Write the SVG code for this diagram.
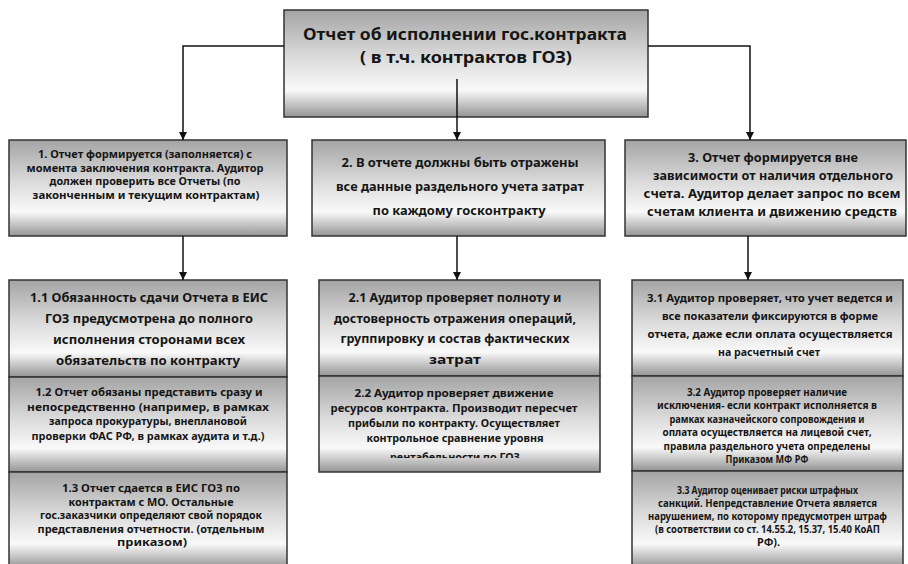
<svg xmlns="http://www.w3.org/2000/svg" width="908" height="564" viewBox="0 0 908 564">
<defs>
<linearGradient id="g" x1="0" y1="0" x2="0" y2="1">
<stop offset="0" stop-color="#a4a4a4"/>
<stop offset="0.45" stop-color="#dcdcdc"/>
<stop offset="0.75" stop-color="#f9f9f9"/>
<stop offset="1" stop-color="#949494"/>
</linearGradient>
<marker id="arr" viewBox="0 0 10 10" refX="10" refY="5" markerWidth="10" markerHeight="8" markerUnits="userSpaceOnUse" orient="auto">
<path d="M0,0 L10,5 L0,10 z" fill="#111"/>
</marker>
<clipPath id="clip22"><rect x="319" y="376" width="281" height="82"/></clipPath>
</defs>
<style>
.box{fill:url(#g);stroke:#333;stroke-width:1.5}
text{font-family:"Noto Sans","DejaVu Sans",sans-serif;font-weight:bold;text-anchor:middle;fill:#151515}
.con{fill:none;stroke:#111;stroke-width:1.5}
</style>
<rect width="908" height="564" fill="#fff"/>

<g id="root">
<rect class="box" x="284" y="10" width="364" height="107"/>
<text x="465" y="40" font-size="16.5" textLength="324" lengthAdjust="spacingAndGlyphs">Отчет об исполнении гос.контракта</text>
<text x="466" y="63" font-size="16.5" textLength="212" lengthAdjust="spacingAndGlyphs">( в т.ч. контрактов ГОЗ)</text>
</g>

<g id="n1">
<rect class="box" x="9" y="140" width="278" height="96"/>
<g font-size="10.5">
<text x="145" y="158" textLength="214" lengthAdjust="spacingAndGlyphs">1. Отчет формируется (заполняется) с</text>
<text x="145" y="171.5" textLength="237" lengthAdjust="spacingAndGlyphs">момента заключения контракта. Аудитор</text>
<text x="145" y="185" textLength="191" lengthAdjust="spacingAndGlyphs">должен проверить все Отчеты (по</text>
<text x="146" y="198.5" textLength="227" lengthAdjust="spacingAndGlyphs">законченным и текущим контрактам)</text>
</g>
</g>

<g id="n2">
<rect class="box" x="312" y="140" width="293" height="96"/>
<g font-size="12.5">
<text x="460" y="167" textLength="237" lengthAdjust="spacingAndGlyphs">2. В отчете должны быть отражены</text>
<text x="460" y="191" textLength="248" lengthAdjust="spacingAndGlyphs">все данные раздельного учета затрат</text>
<text x="459" y="215" textLength="173" lengthAdjust="spacingAndGlyphs">по каждому госконтракту</text>
</g>
</g>

<g id="n3">
<rect class="box" x="625" y="140" width="281" height="96"/>
<g font-size="12.5">
<text x="773" y="162" textLength="170" lengthAdjust="spacingAndGlyphs">3. Отчет формируется вне</text>
<text x="773" y="180" textLength="240" lengthAdjust="spacingAndGlyphs">зависимости от наличия отдельного</text>
<text x="772" y="198" textLength="257" lengthAdjust="spacingAndGlyphs">счета. Аудитор делает запрос по всем</text>
<text x="772" y="216" textLength="250" lengthAdjust="spacingAndGlyphs">счетам клиента и движению средств</text>
</g>
</g>

<g id="n1_1">
<rect class="box" x="9" y="280" width="278" height="97"/>
<g font-size="12">
<text x="149" y="302" textLength="238" lengthAdjust="spacingAndGlyphs">1.1 Обязанность сдачи Отчета в ЕИС</text>
<text x="149" y="323" textLength="208" lengthAdjust="spacingAndGlyphs">ГОЗ предусмотрена до полного</text>
<text x="149" y="344" textLength="192" lengthAdjust="spacingAndGlyphs">исполнения сторонами всех</text>
<text x="148" y="365" textLength="184" lengthAdjust="spacingAndGlyphs">обязательств по контракту</text>
</g>
</g>

<g id="n1_2">
<rect class="box" x="9" y="377" width="278" height="95"/>
<g font-size="11">
<text x="149" y="396" textLength="227" lengthAdjust="spacingAndGlyphs">1.2 Отчет обязаны представить сразу и</text>
<text x="148" y="410.5" textLength="242" lengthAdjust="spacingAndGlyphs">непосредственно (например, в рамках</text>
<text x="148" y="425" textLength="198" lengthAdjust="spacingAndGlyphs">запроса прокуратуры, внеплановой</text>
<text x="148" y="439.5" textLength="233" lengthAdjust="spacingAndGlyphs">проверки ФАС РФ, в рамках аудита и т.д.)</text>
</g>
</g>

<g id="n1_3">
<rect class="box" x="9" y="472" width="278" height="96"/>
<g font-size="10.5">
<text x="151" y="492" textLength="178" lengthAdjust="spacingAndGlyphs">1.3 Отчет сдается в ЕИС ГОЗ по</text>
<text x="151" y="505.5" textLength="165" lengthAdjust="spacingAndGlyphs">контрактам с МО. Остальные</text>
<text x="151" y="519" textLength="222" lengthAdjust="spacingAndGlyphs">гос.заказчики определяют свой порядок</text>
<text x="151" y="532.5" textLength="227" lengthAdjust="spacingAndGlyphs">представления отчетности. (отдельным</text>
<text x="152" y="546" textLength="70" lengthAdjust="spacingAndGlyphs">приказом)</text>
</g>
</g>

<g id="n2_1">
<rect class="box" x="319" y="280" width="281" height="96"/>
<g font-size="12.5">
<text x="455" y="302" textLength="213" lengthAdjust="spacingAndGlyphs">2.1 Аудитор проверяет полноту и</text>
<text x="455" y="322.5" textLength="242" lengthAdjust="spacingAndGlyphs">достоверность отражения операций,</text>
<text x="455" y="343" textLength="229" lengthAdjust="spacingAndGlyphs">группировку и состав фактических</text>
<text x="455" y="363.5" textLength="52" lengthAdjust="spacingAndGlyphs">затрат</text>
</g>
</g>

<g id="n2_2">
<rect class="box" x="319" y="376" width="281" height="96"/>
<g font-size="11" clip-path="url(#clip22)">
<text x="454" y="397" textLength="199" lengthAdjust="spacingAndGlyphs">2.2 Аудитор проверяет движение</text>
<text x="454" y="412" textLength="247" lengthAdjust="spacingAndGlyphs">ресурсов контракта. Производит пересчет</text>
<text x="454" y="427" textLength="212" lengthAdjust="spacingAndGlyphs">прибыли по контракту. Осуществляет</text>
<text x="455" y="442" textLength="177" lengthAdjust="spacingAndGlyphs">контрольное сравнение уровня</text>
<text x="455" y="461" textLength="130" lengthAdjust="spacingAndGlyphs">рентабельности по ГОЗ</text>
</g>
</g>

<g id="n3_1">
<rect class="box" x="632" y="280" width="271" height="96"/>
<g font-size="11">
<text x="770" y="302" textLength="246" lengthAdjust="spacingAndGlyphs">3.1 Аудитор проверяет, что учет ведется и</text>
<text x="770" y="320" textLength="216" lengthAdjust="spacingAndGlyphs">все показатели фиксируются в форме</text>
<text x="770" y="338" textLength="245" lengthAdjust="spacingAndGlyphs">отчета, даже если оплата осуществляется</text>
<text x="769" y="356" textLength="102" lengthAdjust="spacingAndGlyphs">на расчетный счет</text>
</g>
</g>

<g id="n3_2">
<rect class="box" x="632" y="376" width="271" height="95"/>
<g font-size="10">
<text x="767" y="395.5" textLength="160" lengthAdjust="spacingAndGlyphs">3.2 Аудитор проверяет наличие</text>
<text x="767" y="409" textLength="220" lengthAdjust="spacingAndGlyphs">исключения- если контракт исполняется в</text>
<text x="767" y="422.5" textLength="195" lengthAdjust="spacingAndGlyphs">рамках казначейского сопровождения и</text>
<text x="767" y="436" textLength="209" lengthAdjust="spacingAndGlyphs">оплата осуществляется на лицевой счет,</text>
<text x="767" y="449.5" textLength="207" lengthAdjust="spacingAndGlyphs">правила раздельного учета определены</text>
<text x="767" y="462.5" textLength="83" lengthAdjust="spacingAndGlyphs">Приказом МФ РФ</text>
</g>
</g>

<g id="n3_3">
<rect class="box" x="632" y="471" width="271" height="97"/>
<g font-size="10">
<text x="767.5" y="493.5" textLength="181" lengthAdjust="spacingAndGlyphs">3.3 Аудитор оценивает риски штрафных</text>
<text x="767.5" y="506.5" textLength="219" lengthAdjust="spacingAndGlyphs">санкций. Непредставление Отчета является</text>
<text x="767.5" y="519.5" textLength="239" lengthAdjust="spacingAndGlyphs">нарушением, по которому предусмотрен штраф</text>
<text x="767.5" y="532.5" textLength="225" lengthAdjust="spacingAndGlyphs">(в соответствии со ст. 14.55.2, 15.37, 15.40 КоАП</text>
<text x="768.5" y="545.5" textLength="23" lengthAdjust="spacingAndGlyphs">РФ).</text>
</g>
</g>

<g id="connectors" class="con">
<polyline class="con" points="284,46 183,46 183,140" marker-end="url(#arr)"/>
<polyline class="con" points="648,46 750,46 750,140" marker-end="url(#arr)"/>
<line class="con" x1="457" y1="79" x2="457" y2="140" marker-end="url(#arr)"/>
<line class="con" x1="183" y1="236" x2="183" y2="280" marker-end="url(#arr)"/>
<line class="con" x1="457" y1="236" x2="457" y2="280" marker-end="url(#arr)"/>
<line class="con" x1="748" y1="236" x2="748" y2="280" marker-end="url(#arr)"/>
</g>
</svg>
